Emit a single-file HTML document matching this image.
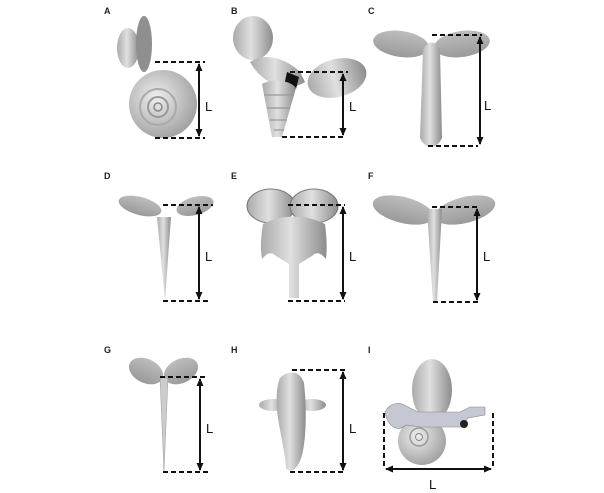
<!DOCTYPE html>
<html><head><style>
html,body{margin:0;padding:0;background:#fff;}
svg{display:block;}
.lb{font-family:"Liberation Sans",sans-serif;font-weight:bold;font-size:9px;fill:#222;}
.L{font-family:"Liberation Sans",sans-serif;font-size:13px;fill:#111;}
.d{stroke:#111;stroke-width:2;stroke-dasharray:5,3;fill:none;}
.a{stroke:#111;stroke-width:2;fill:none;}
</style></head><body>
<svg width="604" height="493" viewBox="0 0 604 493" xmlns="http://www.w3.org/2000/svg">
<defs>
<linearGradient id="g" x1="0" x2="1"><stop offset="0" stop-color="#aaa"/><stop offset=".45" stop-color="#e0e0e0"/><stop offset="1" stop-color="#8c8c8c"/></linearGradient>
<radialGradient id="r" cx=".4" cy=".4" r=".7"><stop offset="0" stop-color="#eee"/><stop offset="1" stop-color="#999"/></radialGradient>
<linearGradient id="w" x1="0" y1="0" x2="0" y2="1"><stop offset="0" stop-color="#bdbdbd"/><stop offset="1" stop-color="#9a9a9a"/></linearGradient>
<marker id="ar" markerUnits="userSpaceOnUse" markerWidth="8" markerHeight="8" refX="7" refY="4" orient="auto-start-reverse"><path d="M0,0.5 L8,4 L0,7.5z" fill="#111"/></marker>
</defs>

<!-- A -->
<text class="lb" x="104" y="14">A</text>
<ellipse cx="128" cy="48" rx="11" ry="20" fill="url(#g)"/>
<ellipse cx="144" cy="44" rx="8" ry="28" fill="#8f8f8f"/>
<circle cx="163" cy="104" r="34" fill="url(#r)"/>
<circle cx="158" cy="107" r="18" fill="none" stroke="#aaa" stroke-width="2"/>
<circle cx="158" cy="107" r="10" fill="none" stroke="#999" stroke-width="2"/>
<circle cx="158" cy="107" r="4" fill="none" stroke="#888" stroke-width="1.5"/>
<path class="d" d="M155,62 H205 M155,138 H205"/>
<path class="a" d="M199,64 V136" marker-start="url(#ar)" marker-end="url(#ar)"/>
<text class="L" x="205" y="111">L</text>

<!-- B -->
<text class="lb" x="231" y="14">B</text>
<ellipse cx="253" cy="38" rx="20" ry="22" fill="url(#g)"/>
<path d="M250,62 C265,52 285,58 300,72 L305,82 C290,92 265,88 250,62z" fill="url(#g)"/>
<ellipse cx="337" cy="78" rx="30" ry="19" fill="url(#g)" transform="rotate(-15 337 78)"/>
<path d="M287,72 l12,5 l-3,12 l-12,-3z" fill="#111"/>
<path d="M262,84 C272,78 290,80 296,88 L282,137 L272,137z" fill="url(#g)"/>
<path d="M264,95 H294 M267,108 H290 M270,120 H287 M274,130 H284" stroke="#999" stroke-width="1.2"/>
<path class="d" d="M290,72 H348 M282,137 H345"/>
<path class="a" d="M343,74 V135" marker-start="url(#ar)" marker-end="url(#ar)"/>
<text class="L" x="349" y="111">L</text>

<!-- C -->
<text class="lb" x="368" y="14">C</text>
<ellipse cx="401" cy="44" rx="28" ry="13" fill="url(#w)" transform="rotate(8 401 44)"/>
<ellipse cx="462" cy="44" rx="28" ry="13" fill="url(#w)" transform="rotate(-8 462 44)"/>
<path d="M423,50 C428,40 436,40 440,50 L442,138 C436,150 426,150 420,138z" fill="url(#g)"/>
<path class="d" d="M432,35 H482 M428,146 H478"/>
<path class="a" d="M480,37 V144" marker-start="url(#ar)" marker-end="url(#ar)"/>
<text class="L" x="484" y="110">L</text>

<!-- D -->
<text class="lb" x="104" y="179">D</text>
<ellipse cx="140" cy="206" rx="22" ry="9" fill="url(#w)" transform="rotate(15 140 206)"/>
<ellipse cx="195" cy="206" rx="19" ry="9" fill="url(#w)" transform="rotate(-15 195 206)"/>
<path d="M157,217 H171 L165,300z" fill="url(#g)"/>
<path class="d" d="M163,205 H213 M163,301 H210"/>
<path class="a" d="M199,207 V299" marker-start="url(#ar)" marker-end="url(#ar)"/>
<text class="L" x="205" y="261">L</text>

<!-- E -->
<text class="lb" x="231" y="179">E</text>
<ellipse cx="271" cy="206" rx="24" ry="17" fill="url(#g)" stroke="#777" stroke-width="1"/>
<ellipse cx="314" cy="206" rx="24" ry="17" fill="url(#g)" stroke="#777" stroke-width="1"/>
<path d="M263,224 C283,214 305,214 325,224 C327,240 327,250 326,259 C320,252 316,252 312,256 L299,264 V298 H289 V264 L276,256 C272,252 268,252 262,259 C260,248 261,236 263,224z" fill="url(#g)"/>
<path class="d" d="M288,205 H345 M288,301 H345"/>
<path class="a" d="M343,207 V299" marker-start="url(#ar)" marker-end="url(#ar)"/>
<text class="L" x="349" y="261">L</text>

<!-- F -->
<text class="lb" x="368" y="179">F</text>
<ellipse cx="403" cy="210" rx="31" ry="13" fill="url(#w)" transform="rotate(14 403 210)"/>
<ellipse cx="465" cy="210" rx="31" ry="13" fill="url(#w)" transform="rotate(-14 465 210)"/>
<path d="M427,209 H442 L437,302 H433z" fill="url(#g)"/>
<path class="d" d="M432,207 H480 M433,302 H480"/>
<path class="a" d="M477,209 V300" marker-start="url(#ar)" marker-end="url(#ar)"/>
<text class="L" x="483" y="261">L</text>

<!-- G -->
<text class="lb" x="104" y="353">G</text>
<ellipse cx="146" cy="371" rx="18" ry="12" fill="url(#w)" transform="rotate(25 146 371)"/>
<ellipse cx="181" cy="371" rx="18" ry="12" fill="url(#w)" transform="rotate(-25 181 371)"/>
<path d="M160,378 H168 L164,472z" fill="#ccc" stroke="#999" stroke-width=".5"/>
<path class="d" d="M160,377 H206 M163,472 H210"/>
<path class="a" d="M200,379 V470" marker-start="url(#ar)" marker-end="url(#ar)"/>
<text class="L" x="206" y="433">L</text>

<!-- H -->
<text class="lb" x="231" y="353">H</text>
<ellipse cx="273" cy="405" rx="14" ry="6" fill="url(#g)"/>
<ellipse cx="312" cy="405" rx="14" ry="6" fill="url(#g)"/>
<path d="M280,378 C288,370 300,370 304,383 C307,410 306,440 302,455 C298,470 290,474 286,468 C285,450 279,430 277,410 C276,395 277,385 280,378z" fill="url(#g)"/>
<path class="d" d="M292,370 H345 M290,472 H345"/>
<path class="a" d="M343,372 V470" marker-start="url(#ar)" marker-end="url(#ar)"/>
<text class="L" x="349" y="433">L</text>

<!-- I -->
<text class="lb" x="368" y="353">I</text>
<ellipse cx="432" cy="390" rx="20" ry="31" fill="url(#g)"/>
<circle cx="422" cy="441" r="24" fill="url(#r)"/>
<circle cx="419" cy="437" r="9" fill="none" stroke="#999" stroke-width="1.5"/>
<circle cx="419" cy="437" r="3.5" fill="none" stroke="#888" stroke-width="1"/>
<path d="M385,412 C390,402 400,402 406,406 L418,412 H460 L470,407 H485 V415 L468,418 L462,427 H420 L406,425 C398,432 388,428 385,412z" fill="#c5c8d2" stroke="#888" stroke-width=".6"/>
<circle cx="464" cy="424" r="4" fill="#222"/>
<path class="d" d="M384,413 V466 M493,413 V466"/>
<path class="a" d="M386,469 H491" marker-start="url(#ar)" marker-end="url(#ar)"/>
<text class="L" x="429" y="489">L</text>
</svg>
</body></html>
